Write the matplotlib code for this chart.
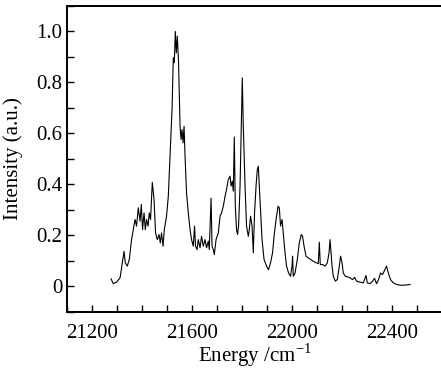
import matplotlib
matplotlib.use('Agg')
import matplotlib.pyplot as plt
from matplotlib.ticker import MultipleLocator, FuncFormatter

# Widmo (energia w cm^-1, intensywnosc znormalizowana)
energy = [21275, 21284, 21297, 21311, 21327, 21332, 21340, 21348, 21357, 21364,
          21371, 21377, 21384, 21391, 21396, 21401, 21407, 21412, 21417, 21423,
          21428, 21433, 21440, 21447, 21453, 21460, 21467, 21472, 21477, 21483,
          21488, 21497, 21504, 21511, 21519, 21524, 21528, 21532, 21536, 21540,
          21545, 21551, 21555, 21559, 21563, 21567, 21571, 21577, 21584, 21591,
          21597, 21604, 21609, 21613, 21619, 21624, 21631, 21637, 21644, 21651,
          21657, 21664, 21668, 21675, 21679, 21684, 21688, 21695, 21704, 21711,
          21717, 21724, 21731, 21737, 21744, 21751, 21755, 21760, 21764, 21768,
          21772, 21777, 21781, 21785, 21791, 21796, 21800, 21804, 21811, 21817,
          21824, 21828, 21833, 21839, 21844, 21849, 21855, 21860, 21864, 21868,
          21873, 21879, 21887, 21897, 21905, 21913, 21921, 21927, 21935, 21943,
          21948, 21953, 21959, 21964, 21971, 21977, 21985, 21993, 21999, 22001,
          22004, 22011, 22020, 22028, 22036, 22041, 22047, 22055, 22064, 22073,
          22084, 22095, 22104, 22108, 22112, 22121, 22132, 22140, 22147, 22151,
          22155, 22159, 22164, 22172, 22180, 22188, 22193, 22199, 22204, 22212,
          22220, 22231, 22241, 22249, 22257, 22271, 22284, 22295, 22300, 22311,
          22321, 22329, 22337, 22345, 22353, 22361, 22369, 22377, 22384, 22393,
          22404, 22417, 22431, 22444, 22457, 22471]
intensity = [0.029, 0.010, 0.016, 0.033, 0.137, 0.092, 0.079, 0.105, 0.183, 0.222,
             0.262, 0.236, 0.308, 0.255, 0.321, 0.222, 0.288, 0.222, 0.262, 0.236,
             0.288, 0.262, 0.408, 0.340, 0.209, 0.183, 0.203, 0.170, 0.209, 0.157,
             0.222, 0.275, 0.353, 0.510, 0.694, 0.897, 0.877, 1.000, 0.916, 0.982,
             0.877, 0.628, 0.576, 0.615, 0.563, 0.628, 0.510, 0.366, 0.288, 0.222,
             0.183, 0.157, 0.236, 0.157, 0.144, 0.183, 0.151, 0.196, 0.157, 0.183,
             0.151, 0.177, 0.144, 0.346, 0.157, 0.144, 0.124, 0.183, 0.209, 0.275,
             0.288, 0.314, 0.353, 0.380, 0.419, 0.432, 0.393, 0.412, 0.373, 0.586,
             0.314, 0.222, 0.203, 0.236, 0.393, 0.628, 0.818, 0.628, 0.393, 0.236,
             0.196, 0.222, 0.275, 0.236, 0.131, 0.288, 0.393, 0.458, 0.471, 0.393,
             0.288, 0.183, 0.105, 0.079, 0.065, 0.092, 0.131, 0.196, 0.262, 0.314,
             0.308, 0.236, 0.262, 0.209, 0.131, 0.079, 0.052, 0.039, 0.079, 0.118,
             0.039, 0.052, 0.105, 0.170, 0.203, 0.196, 0.157, 0.118, 0.111, 0.105,
             0.098, 0.092, 0.089, 0.173, 0.085, 0.085, 0.079, 0.092, 0.131, 0.183,
             0.131, 0.079, 0.039, 0.020, 0.026, 0.079, 0.118, 0.092, 0.052, 0.039,
             0.037, 0.033, 0.026, 0.035, 0.020, 0.016, 0.013, 0.042, 0.013, 0.010,
             0.020, 0.031, 0.010, 0.026, 0.052, 0.046, 0.063, 0.079, 0.052, 0.026,
             0.013, 0.007, 0.004, 0.004, 0.005, 0.007]

plt.rcParams['font.family'] = 'Liberation Serif'
plt.rcParams['mathtext.fontset'] = 'custom'
plt.rcParams['mathtext.rm'] = 'Liberation Serif'

fig = plt.figure(figsize=(4.41, 3.69), dpi=100)
ax = fig.add_axes([67.3 / 441, 57.3 / 369, 375 / 441, 305.7 / 369])

ax.plot(energy, intensity, color='black', linewidth=0.8)

ax.set_xlim(21100, 22600)
ax.set_ylim(-0.1, 1.1)

ax.xaxis.set_major_locator(MultipleLocator(400))
ax.xaxis.set_minor_locator(MultipleLocator(100))
ax.yaxis.set_major_locator(MultipleLocator(0.2))
ax.yaxis.set_minor_locator(MultipleLocator(0.1))
ax.yaxis.set_major_formatter(FuncFormatter(lambda v, p: '0' if abs(v) < 1e-9 else '%.1f' % v))

ax.tick_params(which='both', direction='in', length=5, width=1, labelsize=15,
               top=False, right=False)
ax.tick_params(axis='x', pad=9)
for s in ax.spines.values():
    s.set_linewidth(1.4)

ax.set_xlabel('Energy /cm$^{-1}$', fontsize=15, va='center')
ax.set_ylabel('Intensity (a.u.)', fontsize=15, va='center')
ax.xaxis.set_label_coords(0.5, -0.142)
ax.yaxis.set_label_coords(-0.145, 0.5)

fig.savefig('out.png', dpi=100)
